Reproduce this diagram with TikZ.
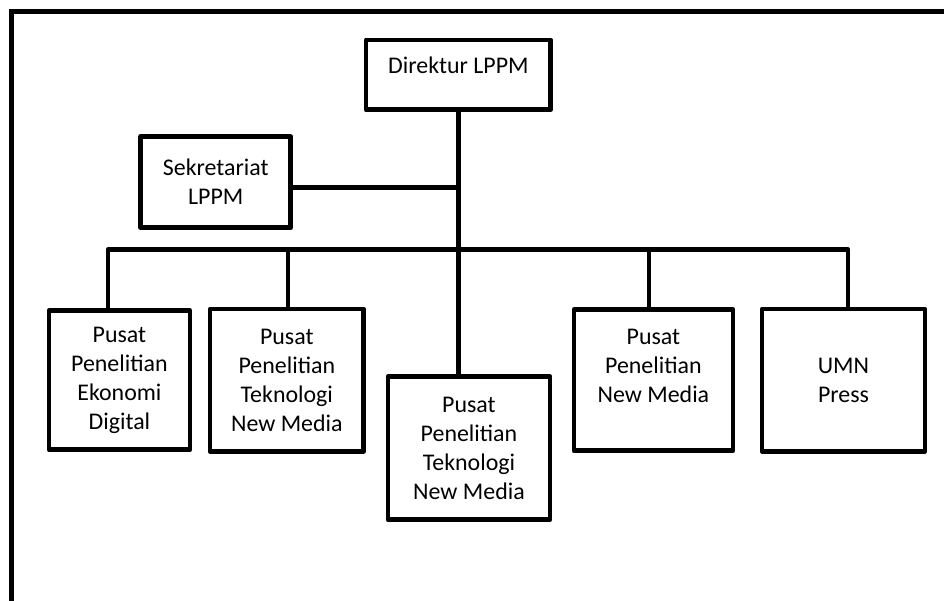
\documentclass[tikz,border=0pt]{standalone}
\usepackage{fontspec}
\setmainfont{Carlito}
\usepackage{tikz}
\usetikzlibrary{shapes,arrows}
\tikzstyle{block} = [rectangle, draw, line width=3.5pt, line join=round,
    align=center, inner sep=0pt, font=\fontsize{18}{21.8}\selectfont]
\tikzstyle{line} = [draw, line width=3.5pt, line join=round]
\tikzstyle{frame} = [draw, line width=3.8pt]

\begin{document}
\begin{tikzpicture}[node distance = 2cm, auto]
			\useasboundingbox (0,0) rectangle (24.98,-15.90);
			% outer frame, cut at right and bottom
			\path [frame] (0.30,-17) |- (26,-0.30);

			\node [block, minimum width=4.89cm, minimum height=1.85cm, text height=11pt, text depth=13pt] (direktur) at (12.13,-1.98) {Direktur LPPM};
			\node [block, minimum width=3.97cm, minimum height=2.41cm, below of=direktur, node distance=2.84cm, xshift=-6.42cm] (sekretariat) {Sekretariat\\LPPM};

			\node [block, minimum width=3.73cm, minimum height=3.68cm, below of=direktur, node distance=8.08cm, xshift=-8.97cm] (ekonomi) {Pusat\\Penelitian\\Ekonomi\\Digital};
			\node [block, minimum width=4.07cm, minimum height=3.76cm, below of=direktur, node distance=8.08cm, xshift=-4.54cm] (teknologiA) {Pusat\\Penelitian\\Teknologi\\New Media};
			\node [block, minimum width=4.29cm, minimum height=3.78cm, below of=direktur, node distance=9.88cm, xshift=0.28cm] (teknologiB) {Pusat\\Penelitian\\Teknologi\\New Media};
			\node [block, minimum width=4.21cm, minimum height=3.73cm, below of=direktur, node distance=8.08cm, xshift=5.16cm] (newMedia) {Pusat\\Penelitian\\New Media\\ \mbox{}};
			\node [block, minimum width=4.31cm, minimum height=3.76cm, below of=direktur, node distance=8.08cm, xshift=10.19cm] (press) {UMN\\Press};

			\coordinate [below of=direktur, node distance=4.62cm] (bus);
			\coordinate [left of=bus, node distance=9.27cm] (busEkonomi);
			\coordinate [left of=bus, node distance=4.51cm] (busTeknologi);
			\coordinate [right of=bus, node distance=5.04cm] (busNewMedia);
			\coordinate [right of=bus, node distance=10.31cm] (busPress);

			% Draw edges
			\path [line] (direktur) -- (direktur |- teknologiB.north);
			\path [line] ([yshift=-0.14cm]sekretariat.east) -- ([yshift=-0.14cm]sekretariat.east -| direktur);
			\path [line] (busEkonomi |- ekonomi.north) -- (busEkonomi) -- (busPress) -- (busPress |- press.north);
			\path [line] (busTeknologi) -- (busTeknologi |- teknologiA.north);
			\path [line] (busNewMedia) -- (busNewMedia |- newMedia.north);
%
	\end{tikzpicture}
\end{document}
